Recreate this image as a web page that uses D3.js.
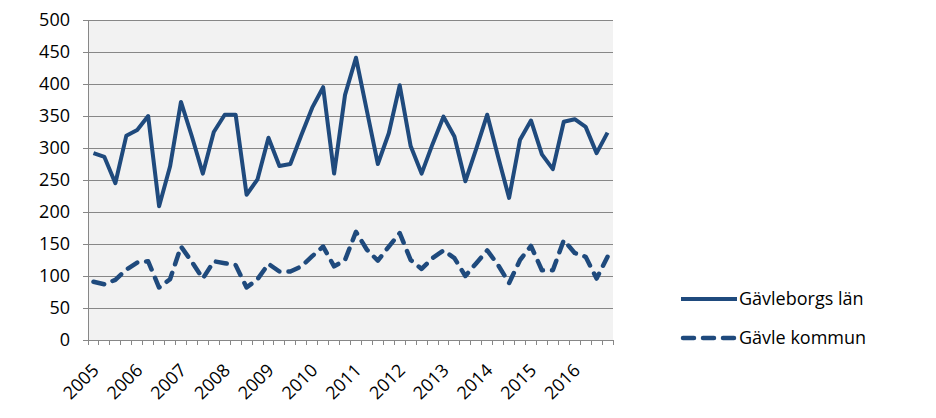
<!DOCTYPE html>
<html><head><meta charset="utf-8">
<script src="https://cdn.jsdelivr.net/npm/d3@7"></script>
<style>body{margin:0;background:#fff}svg{display:block}</style>
</head><body><svg id="c" width="936" height="418"></svg>
<script>
const years = ["2005","2006","2007","2008","2009","2010","2011","2012","2013","2014","2015","2016"];
const quarters = ["Q1","Q2","Q3","Q4"];
const lan = [292,286,245,319,328,350,209,271,372,318,260,325,352,352,227,251,316,272,275,320,363,395,260,383,
             441,358,275,323,398,303,260,306,349,318,248,299,352,286,222,313,343,290,267,341,345,333,292,324];
const kommun = [91,87,94,110,121,123,82,95,146,122,96,123,120,117,82,95,119,107,107,115,131,146,115,125,
                169,141,124,146,167,125,111,128,140,128,100,120,140,117,89,125,147,109,109,156,136,130,96,130];
const yTicks = [0,50,100,150,200,250,300,350,400,450,500];
const seriesNames = ["Gävleborgs län","Gävle kommun"];

const cats = [];
years.forEach(y => quarters.forEach(q => cats.push(y + " " + q)));

const svg = d3.select("#c");
const L = 88, R = 613, T = 20, B = 340;
const font = "'Open Sans', sans-serif";
const fs = 18;
const color = "#1F4A7D";

const x = d3.scaleBand().domain(cats).range([L, R]);
const y = d3.scaleLinear().domain([0, 500]).range([B, T]);

svg.append("rect").attr("x", L).attr("y", T).attr("width", R - L).attr("height", B - T).attr("fill", "#F2F2F2");

// gridlines
svg.append("g").selectAll("line").data(yTicks.filter(d => d > 0)).join("line")
  .attr("x1", L).attr("x2", R).attr("y1", d => y(d)).attr("y2", d => y(d))
  .attr("stroke", "#878787").attr("stroke-width", 1).attr("shape-rendering", "crispEdges");

// y axis
const ya = svg.append("g").attr("transform", `translate(${L},0)`)
  .call(d3.axisLeft(y).tickValues(yTicks).tickSize(5).tickPadding(13).tickSizeOuter(0));
ya.select(".domain").attr("stroke", "#878787");
ya.selectAll(".tick line").attr("stroke", "#878787");
ya.selectAll("text").attr("font-family", font).attr("font-size", fs).attr("fill", "#000");

// x axis baseline and ticks at category boundaries
svg.append("line").attr("x1", L).attr("x2", R).attr("y1", B).attr("y2", B)
  .attr("stroke", "#878787").attr("shape-rendering", "crispEdges");
const bounds = cats.map(c => x(c)).concat([R]);
svg.append("g").selectAll("line").data(bounds).join("line")
  .attr("x1", d => d).attr("x2", d => d).attr("y1", B).attr("y2", B + 5)
  .attr("stroke", "#878787").attr("shape-rendering", "crispEdges");

// year labels
svg.append("g").selectAll("text").data(years).join("text")
  .attr("transform", d => `translate(${x(d + " Q1") + x.bandwidth() / 2 + 2},${B + 27}) rotate(-45)`)
  .attr("text-anchor", "end").attr("dy", "0.35em")
  .attr("font-family", font).attr("font-size", fs).attr("fill", "#000")
  .text(d => d);

const line = d3.line().x((d, i) => x(cats[i]) + x.bandwidth() / 2).y(d => y(d));

svg.append("path").datum(lan).attr("d", line).attr("fill", "none")
  .attr("stroke", color).attr("stroke-width", 4).attr("stroke-linejoin", "round");
svg.append("path").datum(kommun).attr("d", line).attr("fill", "none")
  .attr("stroke", color).attr("stroke-width", 4.5).attr("stroke-linejoin", "round")
  .attr("stroke-linecap", "round").attr("stroke-dasharray", "11,9");

// legend
const lg = svg.append("g");
const ly = [299, 338];
seriesNames.forEach((n, i) => {
  lg.append("line").attr("x1", i ? 683 : 681).attr("x2", i ? 735 : 737).attr("y1", ly[i]).attr("y2", ly[i])
    .attr("stroke", color).attr("stroke-width", i ? 4.5 : 4)
    .attr("stroke-linecap", i ? "round" : "butt")
    .attr("stroke-dasharray", i ? "11,9" : null);
  lg.append("text").attr("x", 739).attr("y", ly[i]).attr("dy", "0.35em")
    .attr("font-family", font).attr("font-size", fs).attr("fill", "#000").text(n);
});
</script></body></html>
